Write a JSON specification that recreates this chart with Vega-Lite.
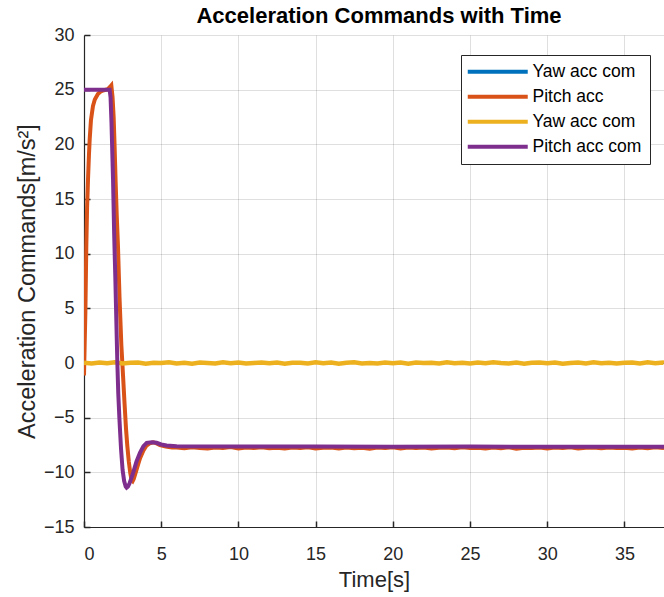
{
  "$schema": "https://vega.github.io/schema/vega-lite/v6.json",
  "width": 580,
  "height": 492,
  "autosize": {"type": "none"},
  "padding": {"left": 84, "top": 35, "right": 0, "bottom": 70},
  "background": "white",
  "title": {"text": "Acceleration Commands with Time", "fontSize": 22, "font": "Liberation Sans", "fontWeight": "bold", "color": "#000000", "anchor": "middle", "frame": "group", "dx": 5, "offset": -2},
  "data": {"values": [
    {"s":"A","t":0,"v":0},{"s":"A","t":37.56,"v":0},
    {"s":"B","t":0,"v":-1.15},{"s":"B","t":0.04,"v":1.5},{"s":"B","t":0.09,"v":4.7},{"s":"B","t":0.15,"v":10.7},{"s":"B","t":0.2,"v":14.2},{"s":"B","t":0.26,"v":16.8},{"s":"B","t":0.32,"v":19},{"s":"B","t":0.37,"v":20.5},{"s":"B","t":0.45,"v":22.2},{"s":"B","t":0.58,"v":23.5},{"s":"B","t":0.7,"v":24.1},{"s":"B","t":0.9,"v":24.6},{"s":"B","t":1.1,"v":24.85},{"s":"B","t":1.3,"v":24.95},{"s":"B","t":1.55,"v":25.05},{"s":"B","t":1.68,"v":25.25},{"s":"B","t":1.77,"v":25.4},{"s":"B","t":1.85,"v":24.3},{"s":"B","t":1.92,"v":22.5},{"s":"B","t":1.98,"v":19.9},{"s":"B","t":2.05,"v":16.5},{"s":"B","t":2.12,"v":13.5},{"s":"B","t":2.2,"v":10.7},{"s":"B","t":2.3,"v":6},{"s":"B","t":2.42,"v":1.6},{"s":"B","t":2.53,"v":-1.2},{"s":"B","t":2.63,"v":-3.8},{"s":"B","t":2.72,"v":-6},{"s":"B","t":2.8,"v":-7.5},{"s":"B","t":2.9,"v":-9},{"s":"B","t":3.0,"v":-10.1},{"s":"B","t":3.08,"v":-10.7},{"s":"B","t":3.15,"v":-10.8},{"s":"B","t":3.22,"v":-10.6},{"s":"B","t":3.35,"v":-10},{"s":"B","t":3.5,"v":-9.3},{"s":"B","t":3.63,"v":-8.7},{"s":"B","t":3.85,"v":-8.0},{"s":"B","t":4.05,"v":-7.55},{"s":"B","t":4.25,"v":-7.35},{"s":"B","t":4.49,"v":-7.25},{"s":"B","t":4.7,"v":-7.35},{"s":"B","t":4.92,"v":-7.5},{"s":"B","t":5.3,"v":-7.65},{"s":"B","t":5.7,"v":-7.72},
    {"s":"B","t":6,"v":-7.73},{"s":"B","t":6.5,"v":-7.8},{"s":"B","t":7,"v":-7.7},{"s":"B","t":7.5,"v":-7.78},{"s":"B","t":8,"v":-7.83},{"s":"B","t":8.5,"v":-7.72},{"s":"B","t":9,"v":-7.77},{"s":"B","t":9.5,"v":-7.69},{"s":"B","t":10,"v":-7.82},{"s":"B","t":10.5,"v":-7.74},
    {"s":"B","t":11,"v":-7.78},{"s":"B","t":11.5,"v":-7.71},{"s":"B","t":12,"v":-7.8},{"s":"B","t":12.5,"v":-7.75},{"s":"B","t":13,"v":-7.83},{"s":"B","t":13.5,"v":-7.73},{"s":"B","t":14,"v":-7.78},{"s":"B","t":14.5,"v":-7.7},{"s":"B","t":15,"v":-7.81},{"s":"B","t":15.5,"v":-7.76},
    {"s":"B","t":16,"v":-7.73},{"s":"B","t":16.5,"v":-7.82},{"s":"B","t":17,"v":-7.72},{"s":"B","t":17.5,"v":-7.79},{"s":"B","t":18,"v":-7.75},{"s":"B","t":18.5,"v":-7.84},{"s":"B","t":19,"v":-7.73},{"s":"B","t":19.5,"v":-7.77},{"s":"B","t":20,"v":-7.7},{"s":"B","t":20.5,"v":-7.81},
    {"s":"B","t":21,"v":-7.74},{"s":"B","t":21.5,"v":-7.78},{"s":"B","t":22,"v":-7.72},{"s":"B","t":22.5,"v":-7.83},{"s":"B","t":23,"v":-7.76},{"s":"B","t":23.5,"v":-7.73},{"s":"B","t":24,"v":-7.8},{"s":"B","t":24.5,"v":-7.71},{"s":"B","t":25,"v":-7.78},{"s":"B","t":25.5,"v":-7.75},
    {"s":"B","t":26,"v":-7.82},{"s":"B","t":26.5,"v":-7.73},{"s":"B","t":27,"v":-7.79},{"s":"B","t":27.5,"v":-7.71},{"s":"B","t":28,"v":-7.83},{"s":"B","t":28.5,"v":-7.75},{"s":"B","t":29,"v":-7.77},{"s":"B","t":29.5,"v":-7.72},{"s":"B","t":30,"v":-7.81},{"s":"B","t":30.5,"v":-7.74},
    {"s":"B","t":31,"v":-7.78},{"s":"B","t":31.5,"v":-7.7},{"s":"B","t":32,"v":-7.82},{"s":"B","t":32.5,"v":-7.76},{"s":"B","t":33,"v":-7.73},{"s":"B","t":33.5,"v":-7.8},{"s":"B","t":34,"v":-7.72},{"s":"B","t":34.5,"v":-7.78},{"s":"B","t":35,"v":-7.75},{"s":"B","t":35.5,"v":-7.83},
    {"s":"B","t":36,"v":-7.73},{"s":"B","t":36.5,"v":-7.79},{"s":"B","t":37,"v":-7.71},{"s":"B","t":37.5,"v":-7.77},{"s":"B","t":37.56,"v":-7.75},
    {"s":"C","t":0,"v":0.03},{"s":"C","t":0.5,"v":-0.04},{"s":"C","t":1,"v":0.05},{"s":"C","t":1.5,"v":-0.02},{"s":"C","t":2,"v":0.06},{"s":"C","t":2.5,"v":-0.05},{"s":"C","t":3,"v":0.02},{"s":"C","t":3.5,"v":0.05},{"s":"C","t":4,"v":-0.06},{"s":"C","t":4.5,"v":0.03},
    {"s":"C","t":5,"v":-0.01},{"s":"C","t":5.5,"v":0.06},{"s":"C","t":6,"v":-0.05},{"s":"C","t":6.5,"v":0.02},{"s":"C","t":7,"v":-0.06},{"s":"C","t":7.5,"v":0.04},{"s":"C","t":8,"v":0.0},{"s":"C","t":8.5,"v":-0.04},{"s":"C","t":9,"v":0.07},{"s":"C","t":9.5,"v":-0.03},
    {"s":"C","t":10,"v":0.04},{"s":"C","t":10.5,"v":-0.05},{"s":"C","t":11,"v":0.01},{"s":"C","t":11.5,"v":0.05},{"s":"C","t":12,"v":-0.03},{"s":"C","t":12.5,"v":0.05},{"s":"C","t":13,"v":-0.07},{"s":"C","t":13.5,"v":0.02},{"s":"C","t":14,"v":0.03},{"s":"C","t":14.5,"v":-0.04},
    {"s":"C","t":15,"v":0.06},{"s":"C","t":15.5,"v":-0.02},{"s":"C","t":16,"v":0.04},{"s":"C","t":16.5,"v":-0.06},{"s":"C","t":17,"v":0.03},{"s":"C","t":17.5,"v":0.06},{"s":"C","t":18,"v":-0.04},{"s":"C","t":18.5,"v":0.01},{"s":"C","t":19,"v":-0.05},{"s":"C","t":19.5,"v":0.05},
    {"s":"C","t":20,"v":-0.02},{"s":"C","t":20.5,"v":0.04},{"s":"C","t":21,"v":-0.06},{"s":"C","t":21.5,"v":0.05},{"s":"C","t":22,"v":-0.01},{"s":"C","t":22.5,"v":0.03},{"s":"C","t":23,"v":-0.05},{"s":"C","t":23.5,"v":0.07},{"s":"C","t":24,"v":-0.03},{"s":"C","t":24.5,"v":0.02},
    {"s":"C","t":25,"v":-0.05},{"s":"C","t":25.5,"v":0.04},{"s":"C","t":26,"v":-0.03},{"s":"C","t":26.5,"v":0.06},{"s":"C","t":27,"v":0.0},{"s":"C","t":27.5,"v":-0.04},{"s":"C","t":28,"v":0.04},{"s":"C","t":28.5,"v":-0.06},{"s":"C","t":29,"v":0.03},{"s":"C","t":29.5,"v":0.05},
    {"s":"C","t":30,"v":-0.02},{"s":"C","t":30.5,"v":0.05},{"s":"C","t":31,"v":-0.06},{"s":"C","t":31.5,"v":0.01},{"s":"C","t":32,"v":0.04},{"s":"C","t":32.5,"v":-0.04},{"s":"C","t":33,"v":0.06},{"s":"C","t":33.5,"v":-0.02},{"s":"C","t":34,"v":0.03},{"s":"C","t":34.5,"v":-0.05},
    {"s":"C","t":35,"v":0.02},{"s":"C","t":35.5,"v":0.05},{"s":"C","t":36,"v":-0.04},{"s":"C","t":36.5,"v":0.06},{"s":"C","t":37,"v":-0.03},{"s":"C","t":37.5,"v":0.04},{"s":"C","t":37.56,"v":0.01},
    {"s":"D","t":0,"v":25},{"s":"D","t":1.66,"v":25},{"s":"D","t":1.72,"v":24.3},{"s":"D","t":1.78,"v":22},{"s":"D","t":1.88,"v":16.8},{"s":"D","t":1.95,"v":12},{"s":"D","t":2.03,"v":7.7},{"s":"D","t":2.1,"v":3.5},{"s":"D","t":2.16,"v":0},{"s":"D","t":2.22,"v":-2.8},{"s":"D","t":2.29,"v":-5},{"s":"D","t":2.35,"v":-6.6},{"s":"D","t":2.4,"v":-7.9},{"s":"D","t":2.5,"v":-9.8},{"s":"D","t":2.6,"v":-10.8},{"s":"D","t":2.7,"v":-11.3},{"s":"D","t":2.76,"v":-11.4},{"s":"D","t":2.85,"v":-11.3},{"s":"D","t":2.95,"v":-11},{"s":"D","t":3.05,"v":-10.6},{"s":"D","t":3.19,"v":-10},{"s":"D","t":3.4,"v":-9},{"s":"D","t":3.63,"v":-8.2},{"s":"D","t":3.85,"v":-7.6},{"s":"D","t":4.06,"v":-7.3},{"s":"D","t":4.4,"v":-7.25},{"s":"D","t":4.7,"v":-7.3},{"s":"D","t":5.0,"v":-7.45},{"s":"D","t":5.35,"v":-7.55},{"s":"D","t":6,"v":-7.62},{"s":"D","t":10,"v":-7.64},{"s":"D","t":15,"v":-7.63},{"s":"D","t":20,"v":-7.65},{"s":"D","t":25,"v":-7.64},{"s":"D","t":30,"v":-7.66},{"s":"D","t":35,"v":-7.65},{"s":"D","t":37.56,"v":-7.65}
  ]},
  "encoding": {
    "x": {"field": "t", "type": "quantitative", "scale": {"domain": [0, 37.56], "nice": false, "zero": false}, "axis": {"title": "Time[s]", "values": [0, 5, 10, 15, 20, 25, 30, 35], "labelPadding": 24, "titlePadding": 6, "titleFontSize": 22}},
    "y": {"field": "v", "type": "quantitative", "scale": {"domain": [-15, 30], "nice": false}, "axis": {"title": "Acceleration Commands[m/s²]", "values": [-15, -10, -5, 0, 5, 10, 15, 20, 25, 30], "labelPadding": 16, "titlePadding": 4, "titleFontSize": 23.5}},
    "color": {"field": "s", "type": "nominal", "scale": {"domain": ["A", "B", "C", "D"], "range": ["#0072BD", "#D95319", "#EDB120", "#7E2F8E"]}, "legend": {"title": null, "labelExpr": "datum.value === 'A' || datum.value === 'C' ? 'Yaw acc com' : datum.value === 'B' ? 'Pitch acc' : 'Pitch acc com'"}}
  },
  "layer": [
    {"transform": [{"filter": "datum.s === 'A'"}], "mark": {"type": "line", "strokeWidth": 2, "clip": true}},
    {"transform": [{"filter": "datum.s === 'B'"}], "mark": {"type": "line", "strokeWidth": 4, "clip": true}},
    {"transform": [{"filter": "datum.s === 'C'"}], "mark": {"type": "line", "strokeWidth": 4.5, "clip": true}},
    {"transform": [{"filter": "datum.s === 'D'"}], "mark": {"type": "line", "strokeWidth": 4, "clip": true}}
  ],
  "config": {
    "view": {"stroke": null},
    "axis": {"domainColor": "#262626", "domainWidth": 1.2, "tickColor": "#262626", "tickSize": -6, "tickWidth": 1.5, "labelFont": "Liberation Sans", "labelFontSize": 18, "labelColor": "#262626", "titleFont": "Liberation Sans", "titleFontWeight": "normal", "titleColor": "#262626", "grid": true, "gridColor": "#262626", "gridOpacity": 0.15, "gridWidth": 1},
    "legend": {"orient": "none", "legendX": 377, "legendY": 20, "symbolType": "M-6,0H6", "symbolSize": 100, "symbolOffset": 20, "symbolStrokeWidth": 4, "labelFont": "Liberation Sans", "labelFontSize": 17.5, "labelColor": "#000000", "strokeColor": "#262626", "fillColor": "white", "padding": 8, "rowPadding": 6, "labelOffset": 26}
  }
}
